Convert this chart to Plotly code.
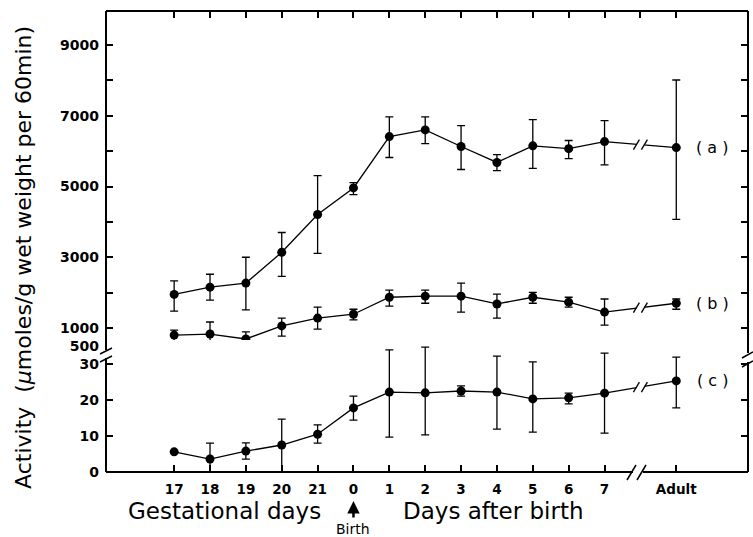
import plotly.graph_objects as go

# ---------------- data ----------------
categories = ["17", "18", "19", "20", "21", "0", "1", "2", "3", "4", "5", "6", "7", "Adult"]

a_mean  = [1950, 2155, 2270, 3140, 4210, 4960, 6410, 6600, 6130, 5680, 6150, 6070, 6270, 6100]
a_upper = [2330, 2520, 3000, 3700, 5310, 5110, 6970, 6970, 6720, 5900, 6890, 6300, 6860, 8010]
a_lower = [1480, 1790, 1510, 2460, 3110, 4770, 5820, 6210, 5480, 5450, 5510, 5790, 5610, 4070]

b_mean  = [800, 830, 690, 1060, 1280, 1390, 1870, 1900, 1900, 1680, 1870, 1730, 1450, 1700]
b_upper = [940, 1170, 890, 1280, 1590, 1530, 2070, 2070, 2270, 1960, 2010, 1870, 1820, 1820]
b_lower = [630, 490, 440, 770, 970, 1230, 1620, 1700, 1450, 1280, 1700, 1590, 1080, 1530]

c_mean  = [5.6, 3.6, 5.8, 7.5, 10.5, 17.8, 22.2, 22.0, 22.5, 22.2, 20.3, 20.6, 21.9, 25.3]
c_upper = [5.6, 8.0, 8.1, 14.7, 13.1, 21.1, 33.9, 34.7, 23.9, 32.2, 30.6, 21.9, 33.0, 31.9]
c_lower = [5.6, 0.0, 3.6, 0.0, 8.0, 14.4, 9.7, 10.3, 21.1, 11.9, 11.1, 18.9, 10.8, 17.8]

upper_tickvals = [500, 1000, 2000, 3000, 4000, 5000, 6000, 7000, 8000, 9000]
upper_ticktext = ["500", "1000", "", "3000", "", "5000", "", "7000", "", "9000"]
lower_tickvals = [0, 10, 20, 30]
lower_ticktext = ["0", "10", "20", "30"]
series_labels = ["( a )", "( b )", "( c )"]

# x positions: one empty slot (axis break) before "Adult"
xpos = list(range(len(categories) - 1)) + [len(categories)]
break_x = len(categories) - 1

# ---------------- geometry helpers ----------------
W, H = 753, 537
ML, MR, MT, MB = 106, 5, 11, 65
PW, PH = W - ML - MR, H - MT - MB


def xp(px):
    return (px - ML) / PW


def yp(py):
    return (H - MB - py) / PH


FONT = "DejaVu Sans"
BLACK = "#000000"

fig = go.Figure()


def add_series(mean, up, lo, yaxis):
    fig.add_trace(go.Scatter(
        x=xpos, y=mean, mode="lines+markers", yaxis=yaxis, xaxis="x",
        line=dict(color=BLACK, width=1.3),
        marker=dict(color=BLACK, size=9),
        error_y=dict(type="data", symmetric=False,
                     array=[u - m for u, m in zip(up, mean)],
                     arrayminus=[m - l for m, l in zip(mean, lo)],
                     color=BLACK, thickness=1.3, width=4),
        showlegend=False, hoverinfo="skip", cliponaxis=False,
    ))


add_series(a_mean, a_upper, a_lower, "y")
add_series(b_mean, b_upper, b_lower, "y")
add_series(c_mean, c_upper, c_lower, "y2")
# empty trace so that the top (tick-only) axis is drawn
fig.add_trace(go.Scatter(x=[], y=[], xaxis="x2", yaxis="y", showlegend=False,
                         hoverinfo="skip"))

xrange = [-1.9, 16.0]
tickfont = dict(family=FONT, size=13.5, color=BLACK, weight="bold")

fig.update_layout(
    width=W, height=H,
    margin=dict(l=ML, r=MR, t=MT, b=MB),
    paper_bgcolor="white", plot_bgcolor="white",
    showlegend=False,
    xaxis=dict(range=xrange, anchor="y2", tickvals=xpos, ticktext=categories,
               ticks="inside", ticklen=7, tickwidth=2, tickcolor=BLACK,
               showline=False, showgrid=False, zeroline=False,
               tickfont=tickfont, ticklabelstandoff=7),
    xaxis2=dict(range=xrange, overlaying="x", anchor="y", side="top",
                tickvals=list(range(len(categories) + 1)),
                ticks="inside", ticklen=7, tickwidth=2, tickcolor=BLACK,
                showticklabels=False, showline=False, showgrid=False, zeroline=False),
    yaxis=dict(domain=[yp(352), 1], range=[322, 9961],
               tickvals=upper_tickvals, ticktext=upper_ticktext,
               ticks="inside", ticklen=7, tickwidth=2, tickcolor=BLACK, mirror="ticks",
               showline=False, showgrid=False, zeroline=False,
               tickfont=dict(family=FONT, size=14, color=BLACK, weight="bold"),
               ticklabelstandoff=6),
    yaxis2=dict(domain=[0, yp(340)], range=[0, 36.67],
                tickvals=lower_tickvals, ticktext=lower_ticktext,
                ticks="inside", ticklen=7, tickwidth=2, tickcolor=BLACK, mirror="ticks",
                showline=False, showgrid=False, zeroline=False,
                tickfont=dict(family=FONT, size=14, color=BLACK, weight="bold"),
                ticklabelstandoff=6),
)

# ---------------- frame with axis breaks ----------------
shapes = []


def pline(x0, y0, x1, y1, w=2):
    shapes.append(dict(type="line", xref="paper", yref="paper",
                       x0=xp(x0), y0=yp(y0), x1=xp(x1), y1=yp(y1),
                       line=dict(color=BLACK, width=w)))


pline(106, 11, 748, 11)            # top
pline(106, 11, 106, 350)           # left upper
pline(106, 358, 106, 472)          # left lower
pline(748, 11, 748, 353)           # right upper
pline(748, 362, 748, 472)          # right lower
pline(106, 472, 633, 472)          # bottom left part
pline(643, 472, 748, 472)          # bottom right part
# break marks
pline(100, 354, 112, 348, 1.5)
pline(100, 362, 112, 356, 1.5)
pline(742, 358, 753, 352, 1.5)
pline(742, 367, 753, 361, 1.5)
pline(627, 480, 636, 465, 1.5)
pline(637, 480, 646, 465, 1.5)

# "//" break marks on the data lines between day 7 and Adult
for mean, yref in [(a_mean, "y"), (b_mean, "y"), (c_mean, "y2")]:
    ymid = (mean[-2] + mean[-1]) / 2
    shapes.append(dict(type="rect", xref="x", yref=yref, xsizemode="pixel", ysizemode="pixel",
                       xanchor=break_x, yanchor=ymid, x0=-4, x1=4, y0=-6, y1=6,
                       fillcolor="white", line=dict(width=0)))
    for off in (-4, 4):
        shapes.append(dict(type="line", xref="x", yref=yref, xsizemode="pixel", ysizemode="pixel",
                           xanchor=break_x, yanchor=ymid, x0=off - 3, x1=off + 3, y0=-5, y1=5,
                           line=dict(color=BLACK, width=1.3)))

fig.update_layout(shapes=shapes)

# ---------------- text ----------------
ann = []
C = dict(xanchor="center", yanchor="middle", showarrow=False)
ann.append(dict(text="Activity  (<i>μ</i>moles/g wet weight per 60min)", textangle=-90,
                xref="paper", yref="paper", x=xp(23), y=yp(258),
                font=dict(family=FONT, size=22, color=BLACK), **C))
ann.append(dict(text="Gestational days", xref="paper", yref="paper", x=xp(224.5), y=yp(511),
                font=dict(family=FONT, size=23, color=BLACK), **C))
ann.append(dict(text="Days after birth", xref="paper", yref="paper", x=xp(492.5), y=yp(511),
                font=dict(family=FONT, size=23, color=BLACK), **C))
ann.append(dict(text="Birth", xref="x", yref="paper", x=xpos[5], y=yp(529),
                font=dict(family=FONT, size=14, color=BLACK), **C))
ann.append(dict(text="", xref="x", yref="paper", x=xpos[5], y=yp(501),
                showarrow=True, ax=0, ay=18, arrowhead=2, arrowsize=1, arrowwidth=2.5,
                arrowcolor=BLACK))
for lab, mean, yref in zip(series_labels, [a_mean, b_mean, c_mean], ["y", "y", "y2"]):
    ann.append(dict(text=lab, xref="x", yref=yref, x=xpos[-1] + 1, y=mean[-1],
                    font=dict(family=FONT, size=16, color=BLACK), **C))
fig.update_layout(annotations=ann)

fig.write_html("out.html")
